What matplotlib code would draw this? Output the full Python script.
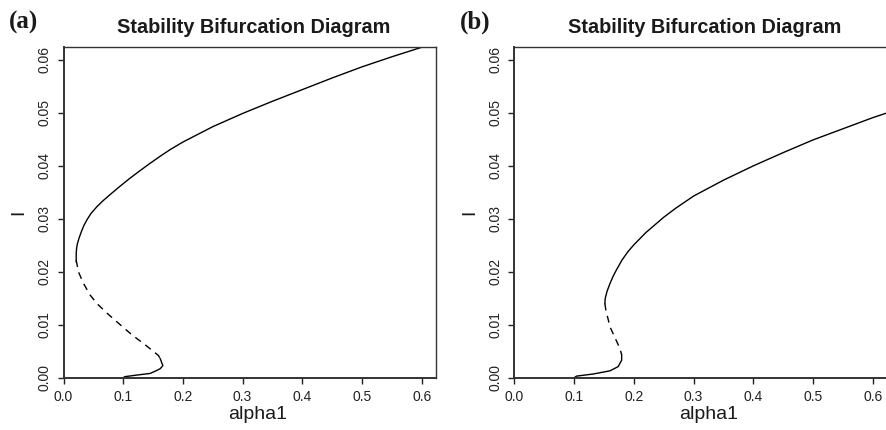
import matplotlib
matplotlib.use("Agg")
import matplotlib.pyplot as plt
import numpy as np

# ---- data ----
# Panel (a)
a_upper_x = [0.0213, 0.0213, 0.0220, 0.0235, 0.0265, 0.0300, 0.0340, 0.0392, 0.046, 0.056,
             0.066, 0.0783, 0.093, 0.1117, 0.127, 0.1452, 0.163, 0.179,
             0.2, 0.25, 0.3, 0.35, 0.4, 0.45, 0.5, 0.55, 0.6, 0.624]
a_upper_y = [0.0219, 0.0235, 0.0245, 0.0254, 0.0265, 0.0276, 0.0287, 0.0298, 0.0310, 0.0323,
             0.0334, 0.0346, 0.0360, 0.0377, 0.0390, 0.0405, 0.0419, 0.0431,
             0.0445, 0.0474, 0.0499, 0.0522, 0.0544, 0.0566, 0.0587, 0.0606, 0.0624, 0.0632]
a_mid_x = [0.0213, 0.025, 0.0335, 0.0447, 0.056, 0.0727, 0.092, 0.1146, 0.137, 0.159, 0.162]
a_mid_y = [0.0222, 0.020, 0.0178, 0.0156, 0.0140, 0.0122, 0.0103, 0.0081, 0.0062, 0.0042, 0.0036]
a_lower_x = [0.162, 0.165, 0.1665, 0.162, 0.155, 0.145, 0.123, 0.103, 0.1]
a_lower_y = [0.0036, 0.0027, 0.0023, 0.0017, 0.0013, 0.0008, 0.0005, 0.0002, 0.0]

# Panel (b)
b_upper_x = [0.1514, 0.152, 0.155, 0.16, 0.165, 0.17, 0.18, 0.19, 0.2, 0.22, 0.25, 0.27,
             0.3, 0.35, 0.4, 0.45, 0.5, 0.55, 0.6, 0.624]
b_upper_y = [0.0140, 0.0150, 0.0163, 0.0178, 0.0191, 0.0202, 0.0222, 0.0238, 0.0251, 0.0274,
             0.0303, 0.0320, 0.0343, 0.0373, 0.0400, 0.0425, 0.0449, 0.0470, 0.0491, 0.0500]
b_mid_x = [0.1514, 0.153, 0.160, 0.1685, 0.1767, 0.1795]
b_mid_y = [0.0140, 0.0128, 0.0096, 0.0075, 0.0055, 0.0043]
b_lower_x = [0.1795, 0.1795, 0.1737, 0.16, 0.132, 0.104, 0.1]
b_lower_y = [0.0043, 0.0033, 0.0021, 0.0013, 0.0007, 0.0003, 0.0]

x_ticks = [0.0, 0.1, 0.2, 0.3, 0.4, 0.5, 0.6]
y_ticks = [0.00, 0.01, 0.02, 0.03, 0.04, 0.05, 0.06]
x_ticklabels = ["0.0", "0.1", "0.2", "0.3", "0.4", "0.5", "0.6"]
y_ticklabels = ["0.00", "0.01", "0.02", "0.03", "0.04", "0.05", "0.06"]
panel_tags = ["(a)", "(b)"]
title = "Stability Bifurcation Diagram"
xlabel = "alpha1"
ylabel = "I"

plt.rcParams['font.family'] = ['Liberation Sans', 'DejaVu Sans']

W, H = 887, 430
fig = plt.figure(figsize=(W / 100, H / 100), dpi=100)

ax_w = 372.5
lefts = [63.5, 514.5]
top_px, bot_px = 47.0, 377.7

panels = [
    (a_upper_x, a_upper_y, a_mid_x, a_mid_y, a_lower_x, a_lower_y),
    (b_upper_x, b_upper_y, b_mid_x, b_mid_y, b_lower_x, b_lower_y),
]

for i, (ux, uy, mx, my, lx, ly) in enumerate(panels):
    ax = fig.add_axes([lefts[i] / W, 1 - bot_px / H, ax_w / W, (bot_px - top_px) / H])
    ax.plot(ux, uy, color='black', lw=1.0, solid_joinstyle='round')
    ax.plot(mx, my, color='black', lw=1.0, linestyle=(0, (5, 4)))
    ax.plot(lx, ly, color='black', lw=1.0, solid_joinstyle='round')
    ax.set_xlim(0, 0.624)
    ax.set_ylim(0, 0.06245)
    ax.set_xticks(x_ticks)
    ax.set_xticklabels(x_ticklabels, fontsize=10, color='#222222')
    ax.set_yticks(y_ticks)
    ax.set_yticklabels(y_ticklabels, fontsize=10, color='#222222', rotation=90, va='center')
    ax.tick_params(direction='out', length=4.5, width=1.0, pad=4, color='#222222')
    for s in ax.spines.values():
        s.set_linewidth(1.0)
        s.set_color('#333333')
    ax.spines['left'].set_linewidth(1.4)
    ax.spines['bottom'].set_linewidth(1.4)
    ax.set_title(title, fontsize=14.3, fontweight='bold', pad=10, color='#1a1a1a', x=0.51)
    ax.set_xlabel(xlabel, fontsize=14, color='#1a1a1a')
    ax.xaxis.set_label_coords(0.52, -0.086)
    ax.set_ylabel(ylabel, fontsize=14, color='#1a1a1a', va='center')
    ax.yaxis.set_label_coords(-0.121, 0.5)
    fig.text((lefts[i] - 55) / W, 1 - 22 / H, panel_tags[i], fontsize=18, fontweight='bold',
             family=['Liberation Serif', 'DejaVu Serif'], va='center', ha='left', color='#1a1a1a')

fig.savefig("out.png", dpi=100)
